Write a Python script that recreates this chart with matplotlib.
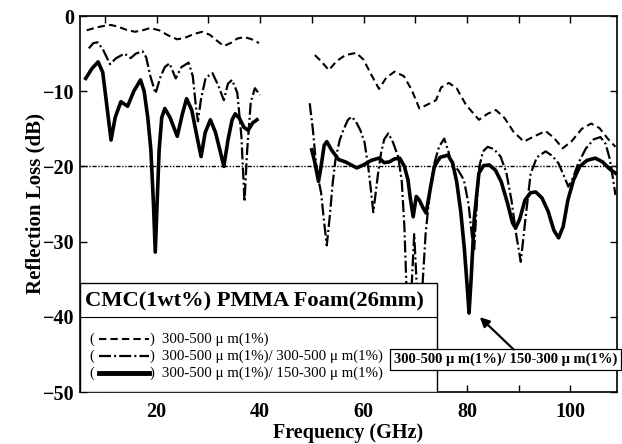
import numpy as np
import matplotlib
matplotlib.use("Agg")
import matplotlib.pyplot as plt
from matplotlib.lines import Line2D
from matplotlib.patches import Rectangle

plt.rcParams['font.family'] = ['Liberation Serif', 'DejaVu Serif']

# ---- data, nan separates the two bands ----
nan = np.nan

dashed_f = [6.5, 8.5, 10.0, 11.2, 12.5, 14.0, 15.8, 17.3, 18.8, 20.5, 22.3, 24.0, 25.5,
            27.2, 28.8, 30.3, 31.7, 33.0, 34.3, 35.6, 37.0, 38.4, 39.8, nan,
            50.6, 51.8, 53.3, 54.8, 56.5, 58.6, 60.0, 61.5, 63.0, 64.4, 66.0, 67.8, 69.3,
            70.8, 72.3, 74.0, 75.0, 76.5, 78.0, 79.8, 82.3, 84.0, 85.6, 87.3, 89.0, 91.0,
            93.0, 95.2, 96.8, 98.5, 100.3, 102.2, 104.0, 105.6, 107.2, 108.7]
dashed_db = [-1.9, -1.5, -1.3, -1.2, -1.4, -1.8, -2.1, -1.9, -1.6, -1.9, -2.6, -3.1, -2.9,
             -2.4, -2.1, -2.5, -3.3, -4.0, -3.6, -3.0, -2.8, -3.1, -3.6, nan,
             -5.2, -6.0, -7.2, -6.0, -5.2, -4.9, -5.8, -7.8, -9.7, -8.2, -7.4, -8.0, -9.8,
             -12.3, -11.8, -11.2, -9.5, -8.9, -9.6, -11.8, -13.8, -13.0, -12.5, -13.6, -15.4, -16.7,
             -16.0, -15.3, -16.2, -17.6, -16.6, -15.0, -14.3, -14.9, -16.3, -17.4]

dashdot_f = [6.9, 7.8, 8.6, 9.6, 11.0, 12.2, 13.8, 15.0, 16.0, 17.3, 18.0, 18.8, 19.8, 20.8,
             21.6, 22.5, 23.7, 24.8, 26.2, 27.0, 27.6, 28.0, 28.6, 29.5, 30.8, 31.9, 33.0,
             33.8, 34.6, 35.6, 36.4, 37.0, 37.5, 38.2, 39.0, 40.0, nan,
             49.6, 50.2, 50.8, 51.3, 51.8, 52.4, 52.9, 53.5, 54.0, 54.6, 55.4, 56.2, 57.0,
             57.7, 58.5, 59.4, 60.2, 61.0, 61.9, 62.8, 63.4, 64.0, 64.8, 65.7, 66.7, 67.4,
             67.9, 68.4, 68.8, 69.3, 69.8, 70.3, 70.8, 71.3, 72.0, 72.8, 73.6, 74.6, 75.6,
             76.4, 77.0, 78.3, 79.4, 80.3, 81.0, 81.4, 81.9, 82.4, 83.1, 84.0, 85.2, 86.5,
             87.6, 88.6, 89.5, 90.4, 91.3, 92.3, 93.5, 95.2, 96.5, 97.7, 98.7, 99.6, 100.5,
             101.5, 103.0, 104.5, 105.8, 106.8, 107.6, 108.2, 108.7]
dashdot_db = [-4.3, -3.6, -3.5, -4.4, -6.4, -5.6, -5.0, -5.6, -5.0, -4.7, -5.5, -8.0, -10.3, -8.0,
              -6.8, -6.3, -8.3, -6.8, -6.2, -8.0, -12.0, -14.0, -11.0, -8.2, -7.6, -9.2, -11.2,
              -9.0, -8.5, -10.2, -16.0, -24.7, -18.0, -11.5, -9.6, -10.5, nan,
              -11.6, -15.0, -19.5, -21.8, -23.5, -27.5, -30.5, -26.5, -22.5, -19.0, -16.5, -15.0, -13.8,
              -13.4, -14.0, -15.2, -16.8, -20.5, -26.1, -21.0, -18.2, -16.4, -15.6, -16.8, -18.7, -22.0,
              -28.0, -38.0, -45.0, -36.0, -29.0, -36.0, -45.0, -37.0, -29.0, -23.5, -19.8, -17.4, -16.3,
              -18.0, -19.6, -20.5, -21.8, -25.0, -29.5, -31.0, -25.0, -20.0, -18.0, -17.4, -17.7, -18.7,
              -20.8, -24.5, -29.0, -32.7, -27.0, -21.0, -18.8, -18.0, -18.6, -19.6, -21.2, -22.7, -21.5,
              -19.6, -17.6, -16.4, -16.1, -17.0, -19.0, -21.5, -23.8]

solid_f = [6.3, 7.5, 8.7, 9.6, 10.4, 11.2, 12.0, 13.1, 14.4, 15.6, 16.9, 17.6, 18.3, 18.9,
           19.4, 19.75, 20.1, 20.5, 21.0, 21.6, 22.6, 24.0, 25.0, 25.8, 26.8, 27.8, 28.6,
           29.4, 30.4, 31.4, 32.3, 33.0, 33.8, 34.6, 35.2, 36.0, 36.9, 37.7, 38.6, 39.4, nan,
           50.0, 50.6, 51.3, 51.8, 52.4, 52.9, 53.8, 55.2, 56.5, 57.6, 58.7, 60.0, 61.5,
           63.0, 64.0, 65.0, 66.0, 67.0, 67.9, 68.6, 69.0, 69.6, 70.2, 70.8, 71.5, 72.1,
           72.9, 73.7, 74.8, 76.3, 77.2, 78.0, 78.8, 79.5, 80.1, 80.4, 80.8, 81.4, 82.3,
           83.2, 84.3, 85.5, 86.6, 87.8, 88.8, 89.4, 90.2, 91.2, 92.3, 93.3, 94.5, 95.7,
           96.8, 97.7, 98.6, 99.5, 100.6, 101.8, 103.2, 104.8, 106.2, 107.5, 108.7]
solid_db = [-8.3, -7.0, -6.1, -7.5, -12.0, -16.5, -13.5, -11.4, -12.0, -10.0, -8.5, -10.0, -13.5, -17.8,
            -25.0, -31.4, -25.0, -17.8, -13.5, -12.3, -13.5, -16.0, -13.0, -11.0, -12.5, -16.0, -18.7,
            -15.5, -13.8, -15.5, -18.0, -20.0, -16.5, -13.8, -13.0, -13.6, -14.8, -15.2, -14.2, -13.8, nan,
            -17.8, -19.5, -22.0, -20.0, -17.2, -16.7, -17.8, -19.1, -19.4, -19.8, -20.2, -19.8, -19.2,
            -18.9, -19.5, -19.4, -19.0, -18.9, -20.0, -21.8, -24.0, -26.7, -24.0, -24.5, -25.5, -26.2,
            -23.0, -20.0, -18.8, -18.5, -19.5, -22.0, -26.0, -31.0, -36.5, -39.5, -35.0, -27.0, -20.9,
            -19.9, -19.8, -20.5, -22.0, -24.8, -27.5, -28.2, -27.0, -24.5, -23.5, -23.4, -24.2, -26.0,
            -28.5, -29.5, -28.0, -24.5, -21.8, -20.0, -19.2, -18.9, -19.4, -20.3, -20.9]

ref_level = -20
x_ticks = [20, 40, 60, 80, 100]
y_ticks = [0, -10, -20, -30, -40, -50]

title_txt = "CMC(1wt%) PMMA Foam(26mm)"
legend_txt = ["300-500 \u03bc m(1%)",
              "300-500 \u03bc m(1%)/ 300-500 \u03bc m(1%)",
              "300-500 \u03bc m(1%)/ 150-300 \u03bc m(1%)"]
note_txt = "300-500 \u03bc m(1%)/ 150-300 \u03bc m(1%)"

# ---- figure ----
fig = plt.figure(figsize=(6.22, 4.44), dpi=100)
ax = fig.add_axes([80/622, 1-392/444, 537/622, 376/444])

dash_style = dict(color='k', lw=1.5, dashes=(3.5, 2.0))
dd_style = dict(color='k', lw=1.6, dashes=(5.4, 1.4, 0.9, 1.4))
solid_style = dict(color='k', lw=2.6)

ax.plot(dashed_f, dashed_db, **dash_style)
ax.plot(dashdot_f, dashdot_db, **dd_style)
ax.plot(solid_f, solid_db, **solid_style)
ax.axhline(ref_level, color='k', lw=1.0, dashes=(3, 1.2, 1, 1.2, 1, 1.2))

ax.set_xlim(5.2, 109)
ax.set_ylim(-50, 0)
ax.set_xticks(x_ticks)
ax.set_xticks([10, 30, 50, 70, 90], minor=True)
ax.set_yticks(y_ticks)
ax.tick_params(which='both', direction='in', top=True, right=True, width=1.0)
ax.tick_params(which='major', length=5, labelsize=14.5)
ax.tick_params(which='minor', length=5)
ax.tick_params(axis='x', which='major', pad=7)
ax.tick_params(axis='y', which='major', pad=4)
for lab in ax.get_xticklabels() + ax.get_yticklabels():
    lab.set_fontweight('bold')
for sp in ax.spines.values():
    sp.set_linewidth(1.2)

ax.set_xlabel("Frequency (GHz)", fontsize=14.5, fontweight='bold', labelpad=1)
ax.set_ylabel("Reflection Loss (dB)", fontsize=15, fontweight='bold', labelpad=-2)

# ---- hand-made legend box ----
T = ax.transAxes
ax.add_patch(Rectangle((0, 0), 0.665, 0.290, transform=T, facecolor='white',
                       edgecolor='k', lw=1.0, zorder=5))
ax.add_line(Line2D([0, 0.665], [0.199, 0.199], transform=T, color='k', lw=0.8, zorder=6))
ax.text(0.009, 0.240, title_txt, transform=T, fontsize=16.2, fontweight='bold',
        va='center', ha='left', zorder=6)

rows_y = [0.141, 0.096, 0.051]
styles = [dash_style, dd_style, dict(color='k', lw=3.5)]
for yy, st, txt in zip(rows_y, styles, legend_txt):
    ax.text(0.018, yy, "(", transform=T, fontsize=10.5, va='center', ha='left', zorder=6)
    ax.add_line(Line2D([0.036, 0.128], [yy, yy], transform=T, zorder=6, **st))
    ax.text(0.130, yy, ")", transform=T, fontsize=10.5, va='center', ha='left', zorder=6)
    ax.text(0.153, yy, txt, transform=T, fontsize=10.7, va='center', ha='left', zorder=6)

# ---- annotation ----
ax.text(87.4, -45.7, note_txt, fontsize=10.5, fontweight='bold', ha='center', va='center',
        bbox=dict(boxstyle='square,pad=0.25', facecolor='white', edgecolor='k', lw=0.9),
        zorder=7)
ax.annotate("", xy=(82.1, -39.8), xytext=(89.4, -44.6),
            arrowprops=dict(arrowstyle='-|>', color='k', lw=1.6, mutation_scale=14),
            zorder=7)

fig.savefig("out.png", dpi=100)
